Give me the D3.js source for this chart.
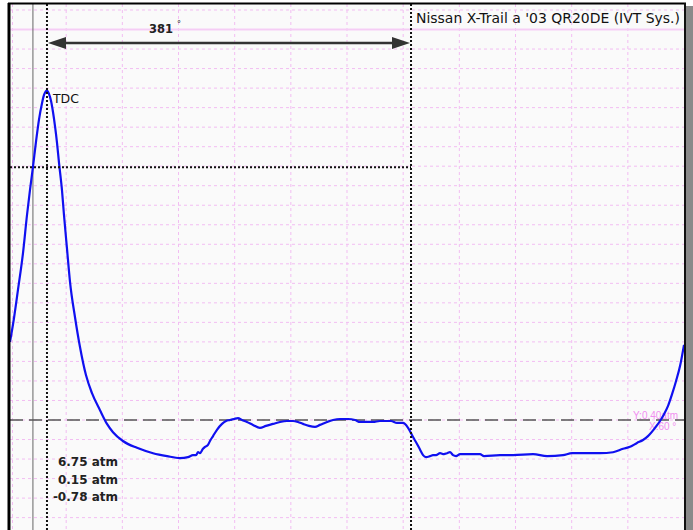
<!DOCTYPE html>
<html>
<head>
<meta charset="utf-8">
<script src="https://cdn.jsdelivr.net/npm/d3@7"></script>
<style>
  body { margin: 0; background: #fff; }
  svg { display: block; }
  text { font-family: "DejaVu Sans", sans-serif; }
</style>
</head>
<body>
<svg id="chart"></svg>
<script>
// crank angle (deg, 0 = TDC) and cylinder pressure (atm)
const crankDeg = [-38.7, -34.5, -30.4, -25.1, -20.9, -17.8, -14.7, -11.5, -8.4, -5.2, -3.1, 0,
  2.1, 4.2, 6.3, 8.4, 10.5, 12.6, 15.7, 17.8, 20.9, 24.1, 29.3, 34.5, 40.8, 47.1, 55.5, 62.8,
  69.1, 79.5, 94.2, 111.0, 125.6, 139.2, 147.6, 152.8, 156.0, 158.1, 160.1, 163.3, 165.4, 168.5,
  170.6, 173.8, 177.9, 183.2, 187.4, 191.5, 195.7, 199.9, 204.1, 209.3, 215.6, 222.9, 229.2,
  236.6, 243.9, 251.2, 257.5, 262.7, 268.0, 274.2, 280.5, 285.7, 293.1, 299.4, 306.7, 315.1,
  322.4, 327.6, 335.0, 341.2, 348.5, 354.8, 360.1, 366.3, 372.6, 377.9, 383.1, 387.3, 390.5,
  393.6, 396.7, 400.9, 404.0, 407.2, 411.4, 415.5, 418.7, 421.8, 425.0, 428.1, 432.3, 442.8,
  453.2, 457.4, 474.2, 487.8, 508.7, 523.4, 540.1, 549.5, 568.3, 578.8, 592.4, 602.9, 610.2,
  617.5, 623.8, 629.0, 636.4, 641.6, 645.8, 650.0, 654.2, 658.4, 662.6, 666.7];
const pressureAtm = [1.60, 2.09, 2.66, 3.42, 4.20, 4.71, 5.18, 5.70, 6.15, 6.49, 6.66, 6.75,
  6.68, 6.54, 6.31, 6.02, 5.68, 5.27, 4.71, 4.20, 3.52, 2.83, 2.11, 1.50, 0.92, 0.55, 0.20, -0.08,
  -0.25, -0.43, -0.57, -0.68, -0.74, -0.78, -0.76, -0.72, -0.72, -0.66, -0.68, -0.59, -0.55, -0.51,
  -0.43, -0.33, -0.20, -0.08, -0.02, 0, 0.02, 0.04, 0, -0.04, -0.10, -0.16, -0.12,
  -0.08, -0.04, -0.02, -0.02, -0.04, -0.08, -0.12, -0.14, -0.10, -0.04, 0, 0.02, 0.02,
  0, -0.04, -0.04, -0.04, -0.02, -0.02, -0.02, -0.06, -0.06, -0.16, -0.35, -0.49, -0.61,
  -0.72, -0.76, -0.74, -0.72, -0.72, -0.68, -0.70, -0.68, -0.66, -0.72, -0.74, -0.70, -0.70,
  -0.70, -0.74, -0.72, -0.72, -0.70, -0.74, -0.72, -0.68, -0.68, -0.68, -0.66, -0.59, -0.55,
  -0.47, -0.41, -0.33, -0.16, -0.02, 0.12, 0.29, 0.53, 0.80, 1.11, 1.54];

// cursors and readouts
const cursorDeg = [0, 381];
const markerDeg = -14.7;
const hCursorAtm = 5.18;
const baselineAtm = 0;
const triggerAtm = 8.0;
const readouts = ["6.75 atm", "0.15 atm", "-0.78 atm"];
const title = "Nissan X-Trail a '03 QR20DE (IVT Sys.)";
const spanLabel = "381";
const cursorText = ["Y:0.40atm", "X:60 °"];

const W = 693, H = 530;
const plot = {left: 10, right: 684, top: 4, bottom: 530};

const svg = d3.select('#chart').attr('width', W).attr('height', H);

const x = d3.scaleLinear().domain([-38.7, 666.7]).range([plot.left, plot.right]);
const y = d3.scaleLinear().domain([0, 8.4]).range([420, 10]);

// plot background + shadow on the right
svg.append('rect').attr('x', plot.right + 2).attr('y', 6).attr('width', W - plot.right - 2).attr('height', H)
  .attr('fill', '#8a8a8a');
svg.append('rect').attr('x', plot.left).attr('y', plot.top)
  .attr('width', plot.right - plot.left).attr('height', plot.bottom - plot.top)
  .attr('fill', '#fafafa');

svg.append('clipPath').attr('id', 'clip').append('rect')
  .attr('x', plot.left).attr('y', plot.top)
  .attr('width', plot.right - plot.left).attr('height', plot.bottom - plot.top);

const g = svg.append('g').attr('clip-path', 'url(#clip)');

// grid (12 horizontal divisions, 0.4 atm per division vertically)
const [d0, d1] = x.domain();
const xGrid = d3.range(0, 12).map(i => d0 + i * (d1 - d0) / 12);
const yGrid = d3.range(-5, 22).map(k => +(k * 0.4).toFixed(2));

g.selectAll('.vgrid').data(xGrid).enter().append('line')
  .attr('x1', (d, i) => x(d) + (i === 0 ? 2.5 : 0)).attr('x2', (d, i) => x(d) + (i === 0 ? 2.5 : 0))
  .attr('y1', plot.top).attr('y2', plot.bottom)
  .attr('stroke', '#f2bdf2').attr('stroke-width', 1).attr('stroke-dasharray', '3,3');

g.selectAll('.hgrid').data(yGrid.filter(v => v !== triggerAtm)).enter().append('line')
  .attr('x1', plot.left).attr('x2', plot.right)
  .attr('y1', d => y(d)).attr('y2', d => y(d))
  .attr('stroke', '#f2bdf2').attr('stroke-width', 1).attr('stroke-dasharray', '3,3');

g.append('line')
  .attr('x1', plot.left).attr('x2', plot.right)
  .attr('y1', y(triggerAtm)).attr('y2', y(triggerAtm))
  .attr('stroke', '#f5cdf5').attr('stroke-width', 2);

// marker line
g.append('line')
  .attr('x1', x(markerDeg)).attr('x2', x(markerDeg))
  .attr('y1', plot.top).attr('y2', plot.bottom)
  .attr('stroke', '#666').attr('stroke-width', 1);

// baseline (0 atm)
g.append('line')
  .attr('x1', plot.left).attr('x2', plot.right)
  .attr('y1', y(baselineAtm)).attr('y2', y(baselineAtm))
  .attr('stroke', '#555').attr('stroke-width', 1.3).attr('stroke-dasharray', '13,6');

// pink cursor readout
g.append('text').attr('x', 633).attr('y', y(baselineAtm) - 1)
  .attr('font-size', 10).attr('fill', '#f07af0').attr('opacity', 0.85)
  .style('font-family', 'Liberation Sans, sans-serif')
  .text(cursorText[0]);
g.append('text').attr('x', 649).attr('y', y(baselineAtm) + 10)
  .attr('font-size', 10).attr('fill', '#f07af0').attr('opacity', 0.85)
  .style('font-family', 'Liberation Sans, sans-serif')
  .text(cursorText[1]);

// pressure trace
const line = d3.line()
  .x((d, i) => x(crankDeg[i]))
  .y(d => y(d))
  .curve(d3.curveMonotoneX);

g.append('path')
  .datum(pressureAtm)
  .attr('d', line)
  .attr('fill', 'none')
  .attr('stroke', '#1010f0')
  .attr('stroke-width', 2.2);

// horizontal cursor (stops at second vertical cursor)
g.append('line')
  .attr('x1', plot.left).attr('x2', x(cursorDeg[1]))
  .attr('y1', y(hCursorAtm)).attr('y2', y(hCursorAtm))
  .attr('stroke', '#111').attr('stroke-width', 2).attr('stroke-dasharray', '2,2');

// vertical cursors
g.selectAll('.cursor').data(cursorDeg).enter().append('line')
  .attr('x1', d => x(d)).attr('x2', d => x(d))
  .attr('y1', plot.top).attr('y2', plot.bottom)
  .attr('stroke', '#111').attr('stroke-width', 2).attr('stroke-dasharray', '2,2');

// span arrow
const ay = 43;
const ax0 = x(cursorDeg[0]) + 1, ax1 = x(cursorDeg[1]) - 1;
g.append('line').attr('x1', ax0 + 10).attr('x2', ax1 - 10).attr('y1', ay).attr('y2', ay)
  .attr('stroke', '#333').attr('stroke-width', 2.5);
g.append('path')
  .attr('d', `M${ax0},${ay} L${ax0 + 18},${ay - 6} L${ax0 + 18},${ay + 6} Z`)
  .attr('fill', '#333');
g.append('path')
  .attr('d', `M${ax1},${ay} L${ax1 - 18},${ay - 6} L${ax1 - 18},${ay + 6} Z`)
  .attr('fill', '#333');
const spanText = g.append('text').attr('x', 149).attr('y', 33)
  .attr('font-size', 11.5).attr('font-weight', 'bold').attr('fill', '#222');
spanText.append('tspan').text(spanLabel);
spanText.append('tspan').attr('dx', 4).attr('dy', -6).attr('font-size', 8).attr('font-weight', 'normal').text('°');

// title
g.append('text').attr('x', 416).attr('y', 23)
  .attr('font-size', 13.5).attr('fill', '#111')
  .attr('textLength', 264).attr('lengthAdjust', 'spacingAndGlyphs')
  .text(title);

// TDC label
g.append('text').attr('x', x(cursorDeg[0]) + 6).attr('y', y(6.75) + 12)
  .attr('font-size', 12.5).attr('fill', '#111')
  .text('TDC');

// readouts
g.selectAll('.readout').data(readouts).enter().append('text')
  .attr('x', 118).attr('y', (d, i) => 466 + i * 17.5)
  .attr('text-anchor', 'end')
  .attr('font-size', 12).attr('font-weight', 'bold').attr('fill', '#222')
  .text(d => d);

// frame
svg.append('line').attr('x1', plot.left - 1).attr('x2', plot.left - 1).attr('y1', plot.top - 1).attr('y2', H)
  .attr('stroke', '#000').attr('stroke-width', 3);
svg.append('line').attr('x1', plot.left - 2).attr('x2', plot.right + 2).attr('y1', plot.top - 0.5).attr('y2', plot.top - 0.5)
  .attr('stroke', '#000').attr('stroke-width', 2);
svg.append('line').attr('x1', plot.right + 1).attr('x2', plot.right + 1).attr('y1', plot.top - 1).attr('y2', H)
  .attr('stroke', '#111').attr('stroke-width', 2);
</script>
</body>
</html>
